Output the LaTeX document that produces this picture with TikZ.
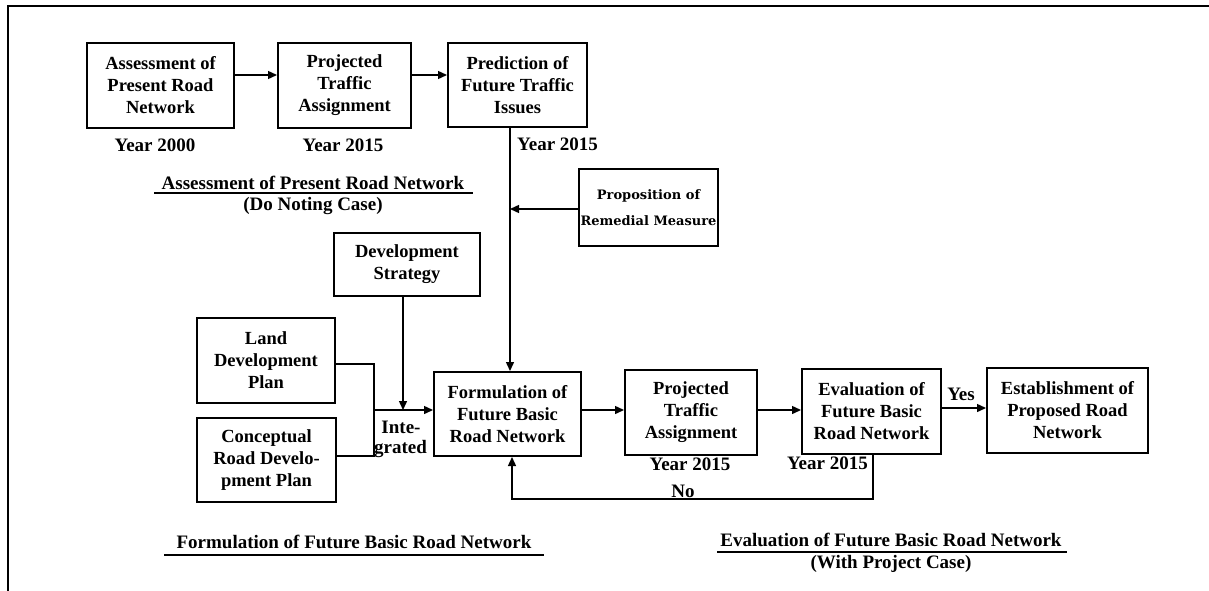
\documentclass[tikz,border=0pt]{standalone}
\usepackage{fontspec}
\setmainfont{Liberation Serif}
\newfontfamily\propfont{DejaVu Serif}
\usetikzlibrary{arrows.meta}
\begin{document}
\begin{tikzpicture}[x=1pt,y=-1pt,
  box/.style={draw, line width=2pt, align=center, inner sep=0pt,
    font=\bfseries\fontsize{18.5}{22}\selectfont},
  lbl/.style={inner sep=0pt, font=\bfseries\fontsize{19}{22}\selectfont},
  conn/.style={line width=1.4pt},
  arr/.style={line width=1.4pt, -{Triangle[length=9pt,width=8pt]}},
  uline/.style={line width=2pt}]
\useasboundingbox (0,0) rectangle (1209,591);
% frame
\draw[line width=1.5pt] (8,591) -- (8,6) -- (1209,6);

% top row
\node[box, minimum width=147pt, minimum height=85pt] (b1) at (160.5,85.5) {Assessment of\\Present Road\\Network};
\node[box, minimum width=133pt, minimum height=85pt] (b2) at (344.5,85.5) {Projected\\Traffic\\Assignment};
\node[box, minimum width=139pt, minimum height=84pt] (b3) at (517.5,85) {Prediction of\\Future Traffic\\Issues};
\node[lbl] (y1) at (155,145) {Year 2000};
\node[lbl] (y2) at (343,145) {Year 2015};
\node[lbl, anchor=west] (y3) at (517,144) {Year 2015};

\node[lbl] (t1) at (313,183) {Assessment of Present Road Network};
\node[lbl] (t1b) at (313,206) {(Do Noting Case)};
\draw[uline] (154,193) -- (473,193);

% proposition
\node[box, minimum width=139pt, minimum height=77pt, font=\propfont\bfseries\fontsize{13}{26}\selectfont] (prop) at (648.5,207.5) {Proposition of\\Remedial Measure};

% development strategy, land, conceptual
\node[box, minimum width=146pt, minimum height=63pt] (dev) at (407,264.5) {Development\\Strategy};
\node[box, minimum width=138pt, minimum height=85pt] (land) at (266,360.5) {Land\\Development\\Plan};
\node[box, minimum width=139pt, minimum height=84pt] (conc) at (266.5,460) {Conceptual\\Road Develo-\\pment Plan};

% bottom row
\node[box, minimum width=147pt, minimum height=84pt] (form) at (507.5,414) {Formulation of\\Future Basic\\Road Network};
\node[box, minimum width=132pt, minimum height=85pt] (proj) at (691,412.5) {Projected\\Traffic\\Assignment};
\node[box, minimum width=139pt, minimum height=85pt] (eval) at (871.5,411.5) {Evaluation of\\Future Basic\\Road Network};
\node[box, minimum width=161pt, minimum height=85pt] (est) at (1067.5,410.5) {Establishment of\\Proposed Road\\Network};

\node[lbl] (y4) at (690,464) {Year 2015};
\node[lbl, anchor=east] (y5) at (868,463) {Year 2015};
\node[lbl] (yes) at (961,394) {Yes};
\node[lbl] (no) at (683,491) {No};
\node[lbl] (inte) at (401,427) {Inte-};
\node[lbl, anchor=west] (grat) at (374,449) {grated};

% titles
\node[lbl] (t2) at (354,542) {Formulation of Future Basic Road Network};
\draw[uline] (164,555) -- (544,555);
\node[lbl] (t3) at (891,540) {Evaluation of Future Basic Road Network};
\draw[uline] (717,552) -- (1067,552);
\node[lbl] (t3b) at (891,564) {(With Project Case)};

% helper coordinates
\coordinate (ya) at (0,75);
\coordinate (vx) at (510,0);
\coordinate (yp) at (0,209);
\coordinate (dx) at (403,0);
\coordinate (yi) at (0,410);
\coordinate (jx) at (374,0);
\coordinate (yl) at (0,364);
\coordinate (yc) at (0,456);
\coordinate (fx) at (873,0);
\coordinate (fy) at (0,499);
\coordinate (fx2) at (512,0);
\coordinate (ye) at (0,408);

% connectors
\draw[arr] (b1.east |- ya) -- (b2.west |- ya);
\draw[arr] (b2.east |- ya) -- (b3.west |- ya);
\draw[arr] (b3.south -| vx) -- (form.north -| vx);
\draw[arr] (prop.west |- yp) -- (vx |- yp);
\draw[arr] (dev.south -| dx) -- (dx |- yi);
\draw[conn] (land.east |- yl) -| (jx |- yc) -- (conc.east |- yc);
\draw[arr] (jx |- yi) -- (form.west |- yi);
\draw[arr] (form.east |- yi) -- (proj.west |- yi);
\draw[arr] (proj.east |- yi) -- (eval.west |- yi);
\draw[arr] (eval.east |- ye) -- (est.west |- ye);
\draw[arr] (eval.south -| fx) -- (fx |- fy) -- (fx2 |- fy) -- (form.south -| fx2);
\end{tikzpicture}
\end{document}
